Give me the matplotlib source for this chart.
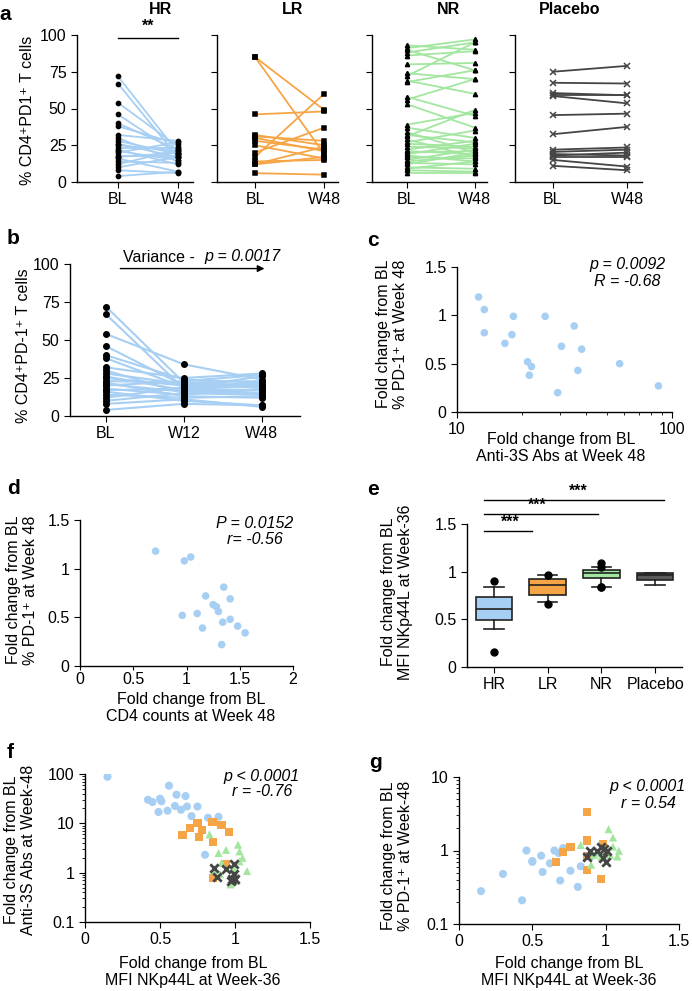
import numpy as np
import matplotlib
matplotlib.use('Agg')
import matplotlib.pyplot as plt
from matplotlib.ticker import LogLocator, NullFormatter

plt.rcParams['font.family'] = ['Liberation Sans', 'DejaVu Sans']
plt.rcParams['font.size'] = 11.5
plt.rcParams['axes.linewidth'] = 1.0
plt.rcParams['xtick.major.size'] = 4
plt.rcParams['ytick.major.size'] = 4
plt.rcParams['xtick.minor.size'] = 2
plt.rcParams['ytick.minor.size'] = 2

FS = 11.5

# ---------------- data ----------------
# a / b : % CD4+PD1+ T cells per patient
time_ab = ['BL', 'W48']
time_b = ['BL', 'W12', 'W48']
hr_bl = [72, 67, 54, 46, 40, 38, 32, 30, 28, 26, 25, 23, 22, 21, 20, 18, 17, 16, 14, 12, 10, 8, 4]
hr_w12 = [22, 18, 34, 20, 24, 19, 25, 15, 21, 17, 20, 22, 13, 16, 23, 14, 18, 10, 12, 19, 15, 11, 8]
hr_w48 = [20, 17, 24, 19, 22, 26, 28, 14, 19, 17, 21, 23, 12, 15, 27, 18, 20, 7, 13, 22, 17, 6, 7]
lr_bl = [85, 85, 46, 32, 31, 30, 28, 25, 20, 17, 14, 12, 12, 6]
lr_w48 = [49, 19, 48, 25, 28, 21, 22, 16, 37, 60, 15, 24, 17, 5]
nr_bl = [93, 91, 90, 88, 86, 80, 74, 72, 69, 68, 58, 56, 53, 39, 37, 34, 32, 31,
         29, 27, 26, 24, 22, 21, 20, 19, 18, 17, 15, 14, 13, 12, 10, 9, 8, 6]
nr_w48 = [90, 97, 76, 95, 89, 81, 70, 95, 60, 76, 45, 70, 37, 47, 30, 20, 27, 49,
          17, 35, 24, 23, 28, 19, 21, 26, 14, 16, 22, 18, 12, 20, 9, 14, 7, 6]
pl_bl = [75, 67.5, 60.5, 59, 58.5, 45.5, 32.5, 22, 20.5, 19, 18, 17, 15, 11]
pl_w48 = [79, 67, 59, 59, 53.5, 46.5, 37.5, 23.5, 22, 18, 20, 17, 10.5, 8]

# c : anti-3S Abs fold change vs PD-1 fold change
c_abs = [12.6, 13.4, 13.4, 18.3, 18.0, 16.7, 25.7, 21.3, 22.2, 21.7, 29.4, 30.6, 35.1, 38.0, 36.5, 57.1, 86.5]
c_pd1 = [1.19, 1.06, 0.82, 0.99, 0.80, 0.71, 0.99, 0.52, 0.47, 0.38, 0.20, 0.68, 0.89, 0.65, 0.43, 0.50, 0.27]

# d : CD4 counts fold change vs PD-1 fold change
d_cd4 = [0.71, 0.98, 1.04, 1.35, 1.18, 1.41, 1.25, 1.28, 1.30, 0.96, 1.10, 1.41, 1.34, 1.48, 1.55, 1.15, 1.33]
d_pd1 = [1.18, 1.08, 1.12, 0.81, 0.72, 0.69, 0.63, 0.61, 0.56, 0.52, 0.54, 0.48, 0.45, 0.41, 0.34, 0.39, 0.22]

# e : MFI NKp44L fold change, box statistics per group
e_groups = ['HR', 'LR', 'NR', 'Placebo']
e_q1 = [0.495, 0.76, 0.93, 0.915]
e_med = [0.61, 0.86, 0.99, 0.97]
e_q3 = [0.73, 0.92, 1.02, 0.99]
e_lo = [0.40, 0.68, 0.84, 0.86]
e_hi = [0.84, 0.965, 1.045, 0.99]
e_out = [[0.90, 0.155], [0.96, 0.656], [1.09, 1.05, 0.84, 0.84], []]

# f : NKp44L fold change vs anti-3S Abs fold change
f_hr_x = [0.15, 0.56, 0.42, 0.45, 0.50, 0.51, 0.49, 0.55, 0.61, 0.60, 0.64, 0.67, 0.68, 0.75, 0.71, 0.82, 0.89, 0.80]
f_hr_y = [88, 58, 30, 27, 31.6, 28, 17, 18, 38, 22.5, 18.8, 35.7, 21.9, 21.9, 14, 13, 13.6, 2.3]
f_lr_x = [0.65, 0.70, 0.75, 0.78, 0.76, 0.856, 0.85, 0.91, 0.96, 0.856, 0.94]
f_lr_y = [5.7, 7.9, 10.3, 7.4, 5.2, 4.2, 10.5, 9.3, 6.8, 0.79, 1.47]
f_nr_x = [0.83, 0.89, 0.94, 1.02, 1.03, 1.08, 1.03, 0.86, 0.90, 0.97, 1.01, 0.99, 0.91, 1.0, 1.05]
f_nr_y = [6.0, 2.5, 2.9, 3.7, 2.7, 1.08, 1.7, 1.11, 0.93, 0.58, 0.68, 1.26, 1.58, 1.08, 2.0]
f_pl_x = [0.86, 0.88, 0.94, 0.98, 0.99, 0.97, 1.0, 0.99]
f_pl_y = [1.26, 0.82, 1.17, 0.76, 1.51, 0.68, 0.74, 0.93]

# g : NKp44L fold change vs PD-1 fold change
g_hr_x = [0.15, 0.30, 0.43, 0.46, 0.50, 0.50, 0.56, 0.57, 0.62, 0.65, 0.68, 0.69, 0.71, 0.76, 0.81, 0.83, 0.90]
g_hr_y = [0.28, 0.48, 0.21, 1.0, 0.72, 0.70, 0.85, 0.51, 0.67, 1.0, 0.92, 0.39, 1.08, 0.53, 0.32, 0.61, 0.83]
g_lr_x = [0.87, 0.66, 0.71, 0.76, 0.87, 0.87, 0.97, 0.98, 0.87]
g_lr_y = [3.3, 0.69, 0.96, 1.13, 1.37, 0.54, 0.41, 1.23, 0.83]
g_nr_x = [0.83, 1.02, 1.05, 1.09, 0.90, 0.97, 1.03, 1.05, 0.92, 1.0, 1.08, 0.95]
g_nr_y = [1.19, 1.95, 1.5, 0.99, 0.64, 0.83, 0.87, 1.13, 0.87, 1.02, 0.83, 0.93]
g_pl_x = [0.87, 0.89, 0.97, 0.99, 1.0, 0.98, 1.01, 0.94]
g_pl_y = [0.81, 0.98, 1.13, 1.05, 0.69, 0.79, 0.97, 0.98]

blue = '#a7cff3'
orange = '#f6a546'
green = '#a3e6a0'
dark = '#454545'

W, H = 692, 991
fig = plt.figure(figsize=(W / 100, H / 100), dpi=100)


def px_axes(x0, y_top, x1, y_bot):
    ax = fig.add_axes([x0 / W, 1 - y_bot / H, (x1 - x0) / W, (y_bot - y_top) / H])
    ax.spines['top'].set_visible(False)
    ax.spines['right'].set_visible(False)
    return ax


def ftext(x, y, s, **kw):
    fig.text(x / W, 1 - y / H, s, **kw)


# ---------------- panel a ----------------
a_specs = [
    ('HR', hr_bl, hr_w48, blue, 'o', 'black', (77, 193), (-0.68, 1.25), 160),
    ('LR', lr_bl, lr_w48, orange, 's', 'black', (217, 338), (-0.55, 1.2), 293),
    ('NR', nr_bl, nr_w48, green, '^', 'black', (372, 487), (-0.51, 1.18), 448),
    ('Placebo', pl_bl, pl_w48, dark, 'x', dark, (515, 642), (-0.51, 1.2), 570),
]
for i, (name, bl, w48, col, mk, mcol, (x0, x1), xl, tx) in enumerate(a_specs):
    ax = px_axes(x0, 35, x1, 182)
    xs = np.arange(len(time_ab))
    ax.plot(xs, np.vstack([bl, w48]), color=col, lw=1.3, zorder=1)
    for j, vals in enumerate([bl, w48]):
        ax.plot(np.full(len(vals), xs[j]), vals, ls='none', marker=mk, color=mcol,
                ms=3 if mk != 'x' else 4.5, mew=1.1, zorder=2, clip_on=False)
    ax.set_xlim(*xl)
    ax.set_ylim(0, 100)
    ax.set_xticks(xs)
    ax.set_xticklabels(time_ab, fontsize=FS)
    ax.set_yticks([0, 25, 50, 75, 100])
    if i == 0:
        ax.set_yticklabels(['0', '25', '50', '75', '100'], fontsize=FS)
        ax.plot([0, 1], [98, 98], color='black', lw=1, clip_on=False)
        ax.text(0.5, 101, '**', ha='center', va='bottom', fontsize=FS, fontweight='bold')
    else:
        ax.set_yticklabels([])
    ftext(tx, 10, name, ha='center', va='center', fontweight='bold', fontsize=FS)

ftext(28, 110, '% CD4⁺PD1⁺ T cells', rotation=90, ha='center', va='center', fontsize=FS)

# ---------------- panel b ----------------
ax = px_axes(70, 264, 300, 416)
xs = np.arange(len(time_b))
ax.plot(xs, np.vstack([hr_bl, hr_w12, hr_w48]), color=blue, lw=1.5, zorder=1)
for j, vals in enumerate([hr_bl, hr_w12, hr_w48]):
    ax.plot(np.full(len(vals), xs[j]), vals, ls='none', marker='o', color='black', ms=4, zorder=2)
ax.set_xlim(-0.46, 2.49)
ax.set_ylim(0, 100)
ax.set_xticks(xs)
ax.set_xticklabels(time_b, fontsize=FS)
ax.set_yticks([0, 25, 50, 75, 100])
ax.tick_params(labelsize=FS)
ax.annotate('', xy=(2.07, 97), xytext=(0.15, 97),
            arrowprops=dict(arrowstyle='-|>', color='black', lw=1, mutation_scale=10),
            annotation_clip=False)
ftext(123, 257, 'Variance -  ', ha='left', va='center', fontsize=FS)
ftext(281, 257, 'p = 0.0017', ha='right', va='center', fontsize=FS, style='italic')
ftext(24, 346, '% CD4⁺PD-1⁺ T cells', rotation=90, ha='center', va='center', fontsize=FS)

# ---------------- panel c ----------------
ax = px_axes(457, 267, 672, 412)
ax.scatter(c_abs, c_pd1, s=30, color=blue, edgecolors='none')
ax.set_xscale('log')
ax.set_xlim(10, 100)
ax.set_ylim(0, 1.5)
ax.set_xticks([10, 100])
ax.set_xticklabels(['10', '100'])
ax.xaxis.set_minor_locator(LogLocator(base=10, subs=np.arange(2, 10)))
ax.xaxis.set_minor_formatter(NullFormatter())
ax.set_yticks([0, 0.5, 1, 1.5])
ax.set_yticklabels(['0', '0.5', '1', '1.5'])
ax.tick_params(labelsize=FS)
ftext(627, 265, 'p = 0.0092', ha='center', va='center', style='italic', fontsize=FS)
ftext(627, 281, 'R = -0.68', ha='center', va='center', style='italic', fontsize=FS)
ftext(392, 334, 'Fold change from BL\n% PD-1⁺ at Week 48', rotation=90, ha='center',
      va='center', fontsize=FS, linespacing=1.15)
ftext(561, 448, 'Fold change from BL\nAnti-3S Abs at Week 48', ha='center', va='center',
      fontsize=FS, linespacing=1.15)

# ---------------- panel d ----------------
ax = px_axes(80, 520, 293, 666)
ax.scatter(d_cd4, d_pd1, s=30, color=blue, edgecolors='none')
ax.set_xlim(0, 2)
ax.set_ylim(0, 1.5)
ax.set_xticks([0, 0.5, 1, 1.5, 2])
ax.set_xticklabels(['0', '0.5', '1', '1.5', '2'])
ax.set_yticks([0, 0.5, 1, 1.5])
ax.set_yticklabels(['0', '0.5', '1', '1.5'])
ax.tick_params(labelsize=FS)
ax.tick_params(axis='x', length=3, pad=1)
ftext(255, 523, 'P = 0.0152', ha='center', va='center', style='italic', fontsize=FS)
ftext(255, 540, 'r= -0.56', ha='center', va='center', style='italic', fontsize=FS)
ftext(22, 590, 'Fold change from BL\n% PD-1⁺ at Week 48', rotation=90, ha='center',
      va='center', fontsize=FS, linespacing=1.15)
ftext(191, 708, 'Fold change from BL\nCD4 counts at Week 48', ha='center', va='center',
      fontsize=FS, linespacing=1.1)

# ---------------- panel e ----------------
ax = px_axes(467, 524, 682, 667)
stats = []
for i, g in enumerate(e_groups):
    stats.append(dict(label=g, med=e_med[i], q1=e_q1[i], q3=e_q3[i],
                      whislo=e_lo[i], whishi=e_hi[i], fliers=e_out[i]))
pos = np.arange(1, len(e_groups) + 1)
bp = ax.bxp(stats, positions=pos, widths=0.68, patch_artist=True, capwidths=0.36,
            boxprops=dict(edgecolor='#222222', lw=1.2),
            medianprops=dict(color='#222222', lw=1.2),
            whiskerprops=dict(color='#222222', lw=1.2),
            capprops=dict(color='#222222', lw=1.2),
            flierprops=dict(marker='o', markerfacecolor='black', markeredgecolor='black', markersize=5))
for patch, col in zip(bp['boxes'], [blue, orange, green, '#5a5a5a']):
    patch.set_facecolor(col)
ax.set_xlim(0.5, 4.5)
ax.set_ylim(0, 1.5)
ax.set_xticks(pos)
ax.set_xticklabels(e_groups)
ax.set_yticks([0, 0.5, 1, 1.5])
ax.set_yticklabels(['0', '0.5', '1', '1.5'])
ax.tick_params(labelsize=FS)
for x_end, y_line, x_star in [(1.70, 1.43, 1.30), (2.93, 1.61, 1.80), (4.17, 1.75, 2.57)]:
    ax.plot([0.815, x_end], [y_line, y_line], color='black', lw=1, clip_on=False)
    ax.text(x_star, y_line + 0.01, '***', ha='center', va='bottom', fontsize=FS, fontweight='bold')
ftext(397, 592, 'Fold change from BL\nMFI NKp44L at Week-36', rotation=90, ha='center',
      va='center', fontsize=FS, linespacing=1.15)


# ---------------- panels f, g ----------------
def scatter_groups(ax, hx, hy, lx, ly, nx, ny, plx, ply):
    ax.scatter(hx, hy, s=34, color=blue, edgecolors='none', zorder=2)
    ax.scatter(lx, ly, s=34, marker='s', color=orange, edgecolors='none', zorder=3)
    ax.scatter(nx, ny, s=34, marker='^', color=green, edgecolors='none', zorder=3)
    ax.scatter(plx, ply, s=36, marker='x', color=dark, linewidths=2, zorder=4)
    ax.set_xlim(0, 1.5)
    ax.set_xticks([0, 0.5, 1, 1.5])
    ax.set_xticklabels(['0', '0.5', '1', '1.5'])
    ax.set_yscale('log')
    ax.yaxis.set_minor_locator(LogLocator(base=10, subs=np.arange(2, 10)))
    ax.yaxis.set_minor_formatter(NullFormatter())
    ax.tick_params(labelsize=FS)


ax = px_axes(85, 774, 310, 922)
scatter_groups(ax, f_hr_x, f_hr_y, f_lr_x, f_lr_y, f_nr_x, f_nr_y, f_pl_x, f_pl_y)
ax.set_ylim(0.1, 100)
ax.set_yticks([0.1, 1, 10, 100])
ax.set_yticklabels(['0.1', '1', '10', '100'])
ftext(261, 776, 'p < 0.0001', ha='center', va='center', style='italic', fontsize=FS)
ftext(262, 792, 'r = -0.76', ha='center', va='center', style='italic', fontsize=FS)
ftext(20, 850, 'Fold change from BL\nAnti-3S Abs at Week-48', rotation=90, ha='center',
      va='center', fontsize=FS, linespacing=1.15)
ftext(193, 972, 'Fold change from BL\nMFI NKp44L at Week-36', ha='center', va='center',
      fontsize=FS, linespacing=1.15)

ax = px_axes(459, 777, 679, 924)
scatter_groups(ax, g_hr_x, g_hr_y, g_lr_x, g_lr_y, g_nr_x, g_nr_y, g_pl_x, g_pl_y)
ax.set_ylim(0.1, 10)
ax.set_yticks([0.1, 1, 10])
ax.set_yticklabels(['0.1', '1', '10'])
ftext(647, 787, 'p < 0.0001', ha='center', va='center', style='italic', fontsize=FS)
ftext(648, 803, 'r = 0.54', ha='center', va='center', style='italic', fontsize=FS)
ftext(397, 856, 'Fold change from BL\n% PD-1⁺ at Week-48', rotation=90, ha='center',
      va='center', fontsize=FS, linespacing=1.15)
ftext(569, 972, 'Fold change from BL\nMFI NKp44L at Week-36', ha='center', va='center',
      fontsize=FS, linespacing=1.15)

# panel letters
for letter, x, y in [('a', 5, 15), ('b', 13, 238), ('c', 373, 240), ('d', 13, 488),
                     ('e', 373, 490), ('f', 10, 753), ('g', 375, 762)]:
    ftext(x, y, letter, ha='center', va='center', fontweight='bold', fontsize=15)

fig.savefig('out.png', dpi=100)
